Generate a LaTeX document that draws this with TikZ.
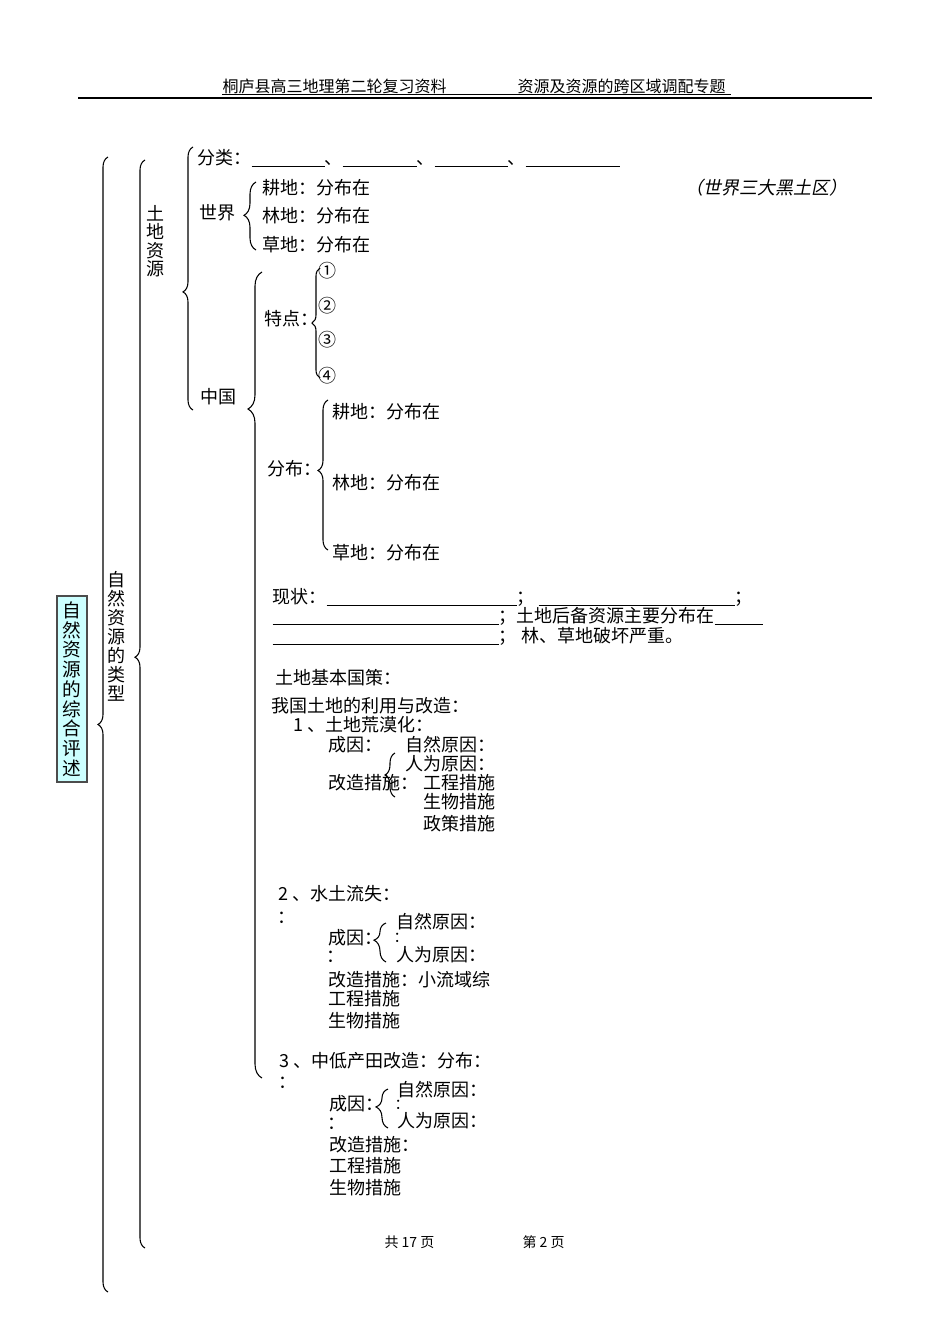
\documentclass[tikz,border=0pt]{standalone}
\usepackage{fontspec}
\setmainfont{Noto Sans CJK SC}
\newfontfamily\cjkit[FakeSlant=0.2]{Noto Sans CJK SC}
\usetikzlibrary{decorations.pathreplacing}
\definecolor{qingse}{RGB}{204,255,255}
% 填空横线，宽度以像素计
\newcommand\bl[1]{\rule[-2pt]{\dimexpr #1pt*3/4\relax}{0.5pt}}

\begin{document}
\begin{tikzpicture}[x=0.75pt, y=-0.75pt, line width=0.8pt,
    txt/.style={anchor=west, inner sep=0pt, font=\fontsize{13.5}{16}\selectfont},
    hd/.style={anchor=west, inner sep=0pt, font=\fontsize{12}{14}\selectfont},
    ft/.style={anchor=west, inner sep=0pt, font=\fontsize{10.5}{12}\selectfont},
    vtxt/.style={inner sep=0pt, align=center, font=\fontsize{13.5}{14.25}\selectfont},
    kuohao/.style={decorate, decoration={brace, amplitude=7.5pt}}]
	\useasboundingbox (0,0) rectangle (950,1342);
	
	% 页眉
	\node[hd] (hd1) at (222,86) {桐庐县高三地理第二轮复习资料};
	\node[hd] (hd2) at (517,86) {资源及资源的跨区域调配专题};
	\draw[line width=0.5pt] (222,94.5) -- (731,94.5);
	\draw[line width=1.3pt] (78,98) -- (872,98);
	
	% 总标题
	\node[vtxt, draw=black!70, fill=qingse, line width=1pt, minimum width=22.5pt, minimum height=139.5pt,
	  font=\fontsize{14}{14.8}\selectfont] (zonghe) at (72,689) {自\\然\\资\\源\\的\\综\\合\\评\\述};
	\node[vtxt] (leixing) at (116,636) {自\\然\\资\\源\\的\\类\\型};
	\node[vtxt, font=\fontsize{13.5}{13.9}\selectfont] (tudi) at (155,241) {土\\地\\资\\源};
	
	% 大括号
	\draw[kuohao, decoration={aspect=0.5}] (108,1292) -- (108,157);
	\draw[kuohao, decoration={aspect=0.543}] (145,1248) -- (145,160);
	\draw[kuohao, decoration={aspect=0.449}] (193,410) -- (193,147);
	
	% 分类与世界
	\node[txt] (fenlei) at (197,158) {分类：\bl{73}、\bl{74}、\bl{73}、\bl{94}};
	\node[txt] (shijie) at (199,213) {世界};
	\draw[kuohao, decoration={amplitude=9pt, aspect=0.51}] (256,250) -- (256,182);
	\node[txt] (sj1) at (262,188) {耕地：分布在};
	\node[txt] (sj2) at (262,216) {林地：分布在};
	\node[txt] (sj3) at (262,245) {草地：分布在};
	\node[txt, font=\fontsize{13.5}{16}\cjkit] (heitu) at (685,188) {（世界三大黑土区）};
	
	% 中国
	\node[txt] (zhongguo) at (200,397) {中国};
	\draw[kuohao, decoration={amplitude=10.5pt, aspect=0.83}] (262,1078) -- (262,272);
	\node[txt] (tedian) at (264,319) {特点：};
	\draw[kuohao, decoration={amplitude=6pt, aspect=0.5}] (320,378) -- (320,268);
	\foreach \y/\t [count=\i] in {271/①, 306/②, 340/③, 376/④}
		\node[txt] (td\i) at (318,\y) {\t};
	\node[txt] (fenbu) at (267,469) {分布：};
	\draw[kuohao, decoration={aspect=0.53}] (328,550) -- (328,400);
	\node[txt] (fb1) at (332,412) {耕地：分布在};
	\node[txt] (fb2) at (332,483) {林地：分布在};
	\node[txt] (fb3) at (332,553) {草地：分布在};
	
	% 现状
	\node[txt] (xz1) at (272,597) {现状：\bl{190}；\hspace{3pt}\bl{196}；};
	\node[txt] (xz2) at (272,616) {\bl{226}；土地后备资源主要分布在\bl{48}};
	\node[txt] (xz3) at (272,636) {\bl{226}；\hspace{4pt}林、草地破坏严重。};
	\node[txt] (guoce) at (275,678) {土地基本国策：};
	\node[txt] (liyong) at (271,706) {我国土地的利用与改造：};
	
	% 1 土地荒漠化
	\node[txt] (hm) at (293,725) {1 、土地荒漠化：};
	\node[txt] (hm1) at (328,745) {成因：};
	\node[txt] (hm2) at (405,745) {自然原因：};
	\node[txt] (hm3) at (405,764) {人为原因：};
	\draw[kuohao, decoration={aspect=0.5}] (395,797) -- (395,753);
	\node[txt] (hm4) at (328,783) {改造措施：};
	\node[txt] (hm5) at (423,783) {工程措施};
	\node[txt] (hm6) at (423,802) {生物措施};
	\node[txt] (hm7) at (423,824) {政策措施};
	
	% 2 水土流失
	\node[txt] (st) at (278,894) {2 、水土流失：};
	\node[txt] (st0) at (277,918) {：};
	\node[txt] (st1) at (328,938) {成因：};
	\draw[kuohao, decoration={amplitude=9pt, aspect=0.56}] (386,962) -- (386,923);
	\node[txt] (st2) at (396,922) {自然原因：};
	\node[txt, font=\fontsize{11}{12}\selectfont] (st3) at (393,938) {：};
	\node[txt] (st4) at (396,955) {人为原因：};
	\node[txt] (st5) at (326,957) {：};
	\node[txt] (st6) at (328,980) {改造措施：小流域综};
	\node[txt] (st7) at (328,999) {工程措施};
	\node[txt] (st8) at (328,1021) {生物措施};
	
	% 3 中低产田改造
	\node[txt] (zd) at (279,1061) {3 、中低产田改造：分布：};
	\node[txt] (zd0) at (278,1083) {：};
	\node[txt] (zd1) at (329,1104) {成因：};
	\draw[kuohao, decoration={amplitude=9pt, aspect=0.54}] (388,1128) -- (388,1089);
	\node[txt] (zd2) at (397,1090) {自然原因：};
	\node[txt, font=\fontsize{11}{12}\selectfont] (zd3) at (394,1105) {：};
	\node[txt] (zd4) at (397,1121) {人为原因：};
	\node[txt] (zd5) at (327,1124) {：};
	\node[txt] (zd6) at (329,1145) {改造措施：};
	\node[txt] (zd7) at (329,1166) {工程措施};
	\node[txt] (zd8) at (329,1188) {生物措施};
	
	% 页脚
	\node[ft] (gong) at (384,1242) {共 17 页};
	\node[ft] (di) at (522,1242) {第 2 页};
\end{tikzpicture}
\end{document}
